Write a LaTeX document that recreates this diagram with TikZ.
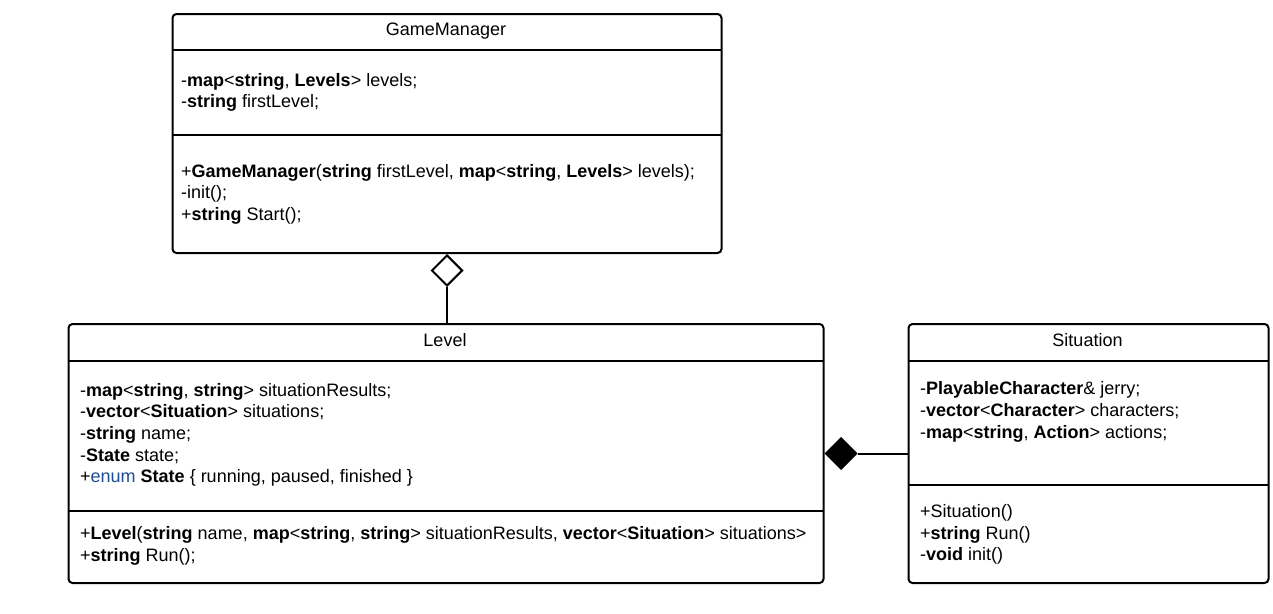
\documentclass[tikz,border=0pt]{standalone}
\usepackage{fontspec}
\setmainfont{Liberation Sans}
\usetikzlibrary{shapes.geometric}
\definecolor{enumblue}{RGB}{30,75,150}
\newcommand\umlfs{\fontsize{18}{21.7}\selectfont}
\tikzset{
  umlbox/.style={draw=black, line width=2pt, rounded corners=4pt, anchor=north west, inner sep=0pt},
  divline/.style={line width=2pt},
  hdr/.style={anchor=base, inner sep=0pt, font=\umlfs},
  txt/.style={anchor=base west, inner sep=0pt, font=\umlfs},
  conn/.style={line width=2pt},
  aggdia/.style={diamond, draw=black, fill=white, line width=2pt, inner sep=0pt, minimum width=31pt, minimum height=31pt},
  compdia/.style={diamond, draw=black, fill=black, line width=1pt, inner sep=0pt, minimum width=32pt, minimum height=32pt},
}
\begin{document}
\begin{tikzpicture}[x=1pt,y=-1pt]
\useasboundingbox (0,0) rectangle (1273,613);
% GameManager
\node[umlbox, minimum width=549pt, minimum height=239pt] (gm) at (171.5,13) {};
\draw[divline] (171.5,50) -- (720.5,50);
\draw[divline] (171.5,135) -- (720.5,135);
\node[hdr] (gmh) at (446,35) {GameManager};
\node[txt] (gma1) at (181,86) {-\textbf{map}<\textbf{string}, \textbf{Levels}> levels;};
\node[txt] (gma2) at (181,107.7) {-\textbf{string} firstLevel;};
\node[txt] (gmm1) at (181,177) {+\textbf{GameManager}(\textbf{string} firstLevel, \textbf{map}<\textbf{string}, \textbf{Levels}> levels);};
\node[txt] (gmm2) at (181,198.7) {-init();};
\node[txt] (gmm3) at (181,220.4) {+\textbf{string} Start();};
% Level
\node[umlbox, minimum width=755pt, minimum height=259pt] (lv) at (67.5,323) {};
\draw[divline] (67.5,360.5) -- (822.5,360.5);
\draw[divline] (67.5,510.5) -- (822.5,510.5);
\node[hdr] (lvh) at (445,346) {Level};
\node[txt] (lva1) at (80,396) {-\textbf{map}<\textbf{string}, \textbf{string}> situationResults;};
\node[txt] (lva2) at (80,417.7) {-\textbf{vector}<\textbf{Situation}> situations;};
\node[txt] (lva3) at (80,439.4) {-\textbf{string} name;};
\node[txt] (lva4) at (80,461.1) {-\textbf{State} state;};
\node[txt] (lva5) at (80,482.8) {+\textcolor{enumblue}{enum} \textbf{State} \{ running, paused, finished \}};
\node[txt] (lvm1) at (80,539.5) {+\textbf{Level}(\textbf{string} name, \textbf{map}<\textbf{string}, \textbf{string}> situationResults, \textbf{vector}<\textbf{Situation}> situations>};
\node[txt] (lvm2) at (80,561.2) {+\textbf{string} Run();};
% Situation
\node[umlbox, minimum width=360pt, minimum height=259pt] (st) at (907.5,323) {};
\draw[divline] (907.5,361) -- (1267.5,361);
\draw[divline] (907.5,484.5) -- (1267.5,484.5);
\node[hdr] (sth) at (1087.5,346) {Situation};
\node[txt] (sta1) at (920,394.7) {-\textbf{PlayableCharacter}\& jerry;};
\node[txt] (sta2) at (920,416.4) {-\textbf{vector}<\textbf{Character}> characters;};
\node[txt] (sta3) at (920,438.1) {-\textbf{map}<\textbf{string}, \textbf{Action}> actions;};
\node[txt] (stm1) at (920,517.3) {+Situation()};
\node[txt] (stm2) at (920,539) {+\textbf{string} Run()};
\node[txt] (stm3) at (920,560.7) {-\textbf{void} init()};
% connectors
\node[aggdia, anchor=north] (agg) at (gm.south) {};
\draw[conn] (agg.south) -- (agg.south |- lv.north);
\node[compdia, anchor=west] (comp) at (lv.east) {};
\draw[conn] (comp.east) -- (st.west);
\end{tikzpicture}
\end{document}
